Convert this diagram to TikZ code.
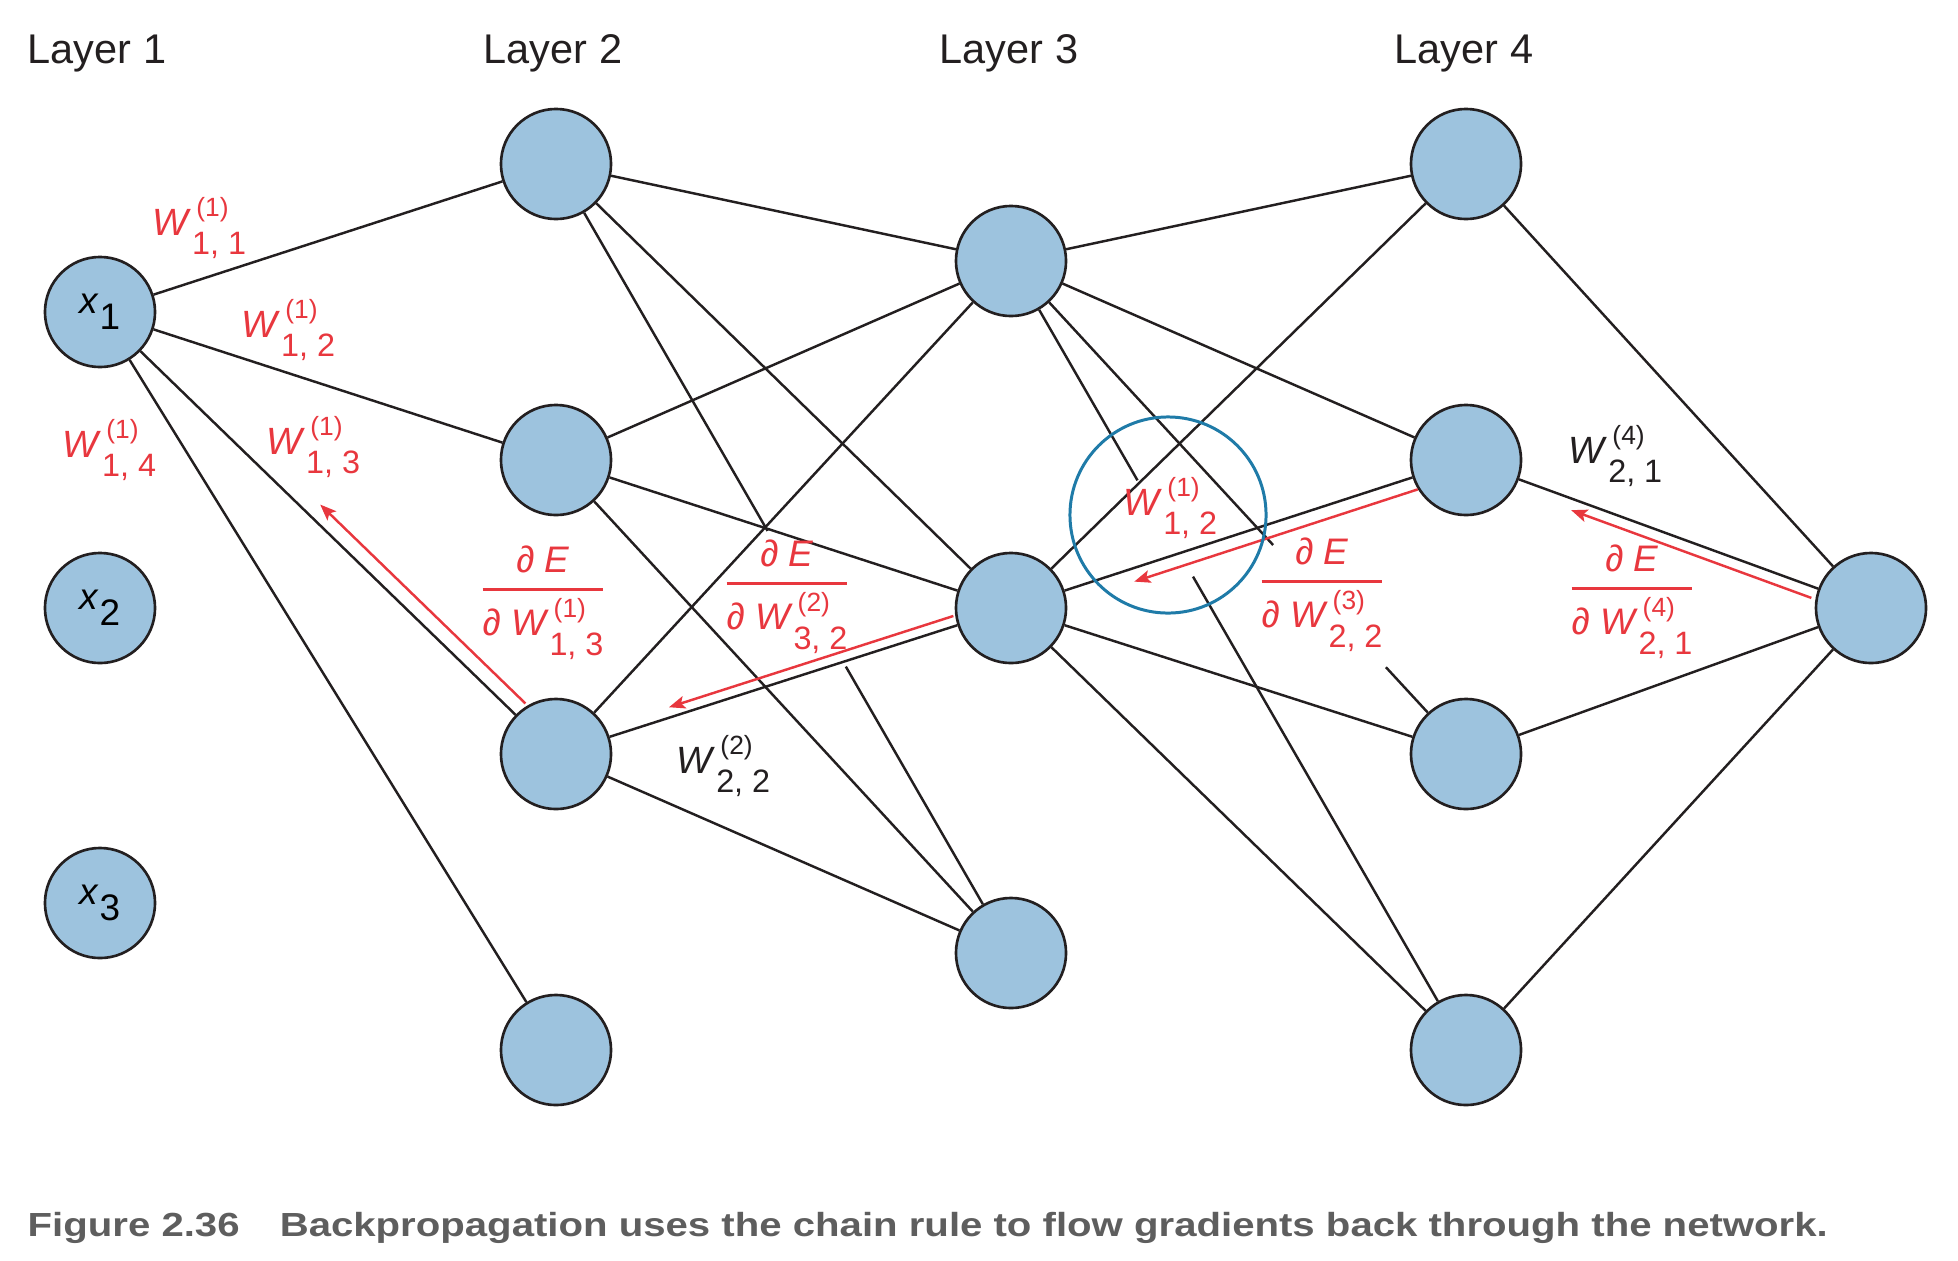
\documentclass[tikz,border=0pt]{standalone}
\usepackage{fontspec}
\setmainfont{Liberation Sans}
\usepackage{graphicx}
\usetikzlibrary{calc,arrows.meta}

\definecolor{nodeblue}{HTML}{9DC3DE}
\definecolor{gradred}{HTML}{E8373E}
\definecolor{ringblue}{HTML}{1F7BA8}
\definecolor{capgrey}{HTML}{5E5E5E}
\definecolor{inkblack}{HTML}{231F20}

% weight label: W with superscript (layer) and subscript (i, j)
\newcommand\wsub[3]{\textit{W}\kern0.2pt\rlap{\kern1.2pt\raisebox{5.2pt}{\fontsize{7.5}{9}\selectfont(#1)}}\raisebox{-5.6pt}{\fontsize{9.2}{11}\selectfont#2, #3}}
\newcommand\nx[1]{\textit{x}\raisebox{-4.5pt}{#1}}
\newcommand\dEdW[3]{$\displaystyle{\hbox{\fontsize{10.5}{12}\selectfont ∂ \textit{E}}\above0.7pt\hbox{\fontsize{10.5}{12}\selectfont ∂ \wsub{#1}{#2}{#3}}}$}

\begin{document}
\begin{tikzpicture}[x=0.01cm,y=-0.01cm,
		neuron/.style={circle,draw=inkblack,line width=0.75pt,fill=nodeblue,minimum size=1.1cm,inner sep=0pt,font=\fontsize{10.5}{12}\selectfont},
		edge/.style={draw=inkblack,line width=0.7pt},
		grad/.style={draw=gradred,line width=0.7pt,-{Stealth[length=4.6pt,width=3.6pt,inset=1pt]}},
		wred/.style={text=gradred,anchor=base west,inner sep=0pt,font=\fontsize{10.8}{12}\selectfont},
		wblack/.style={text=inkblack,anchor=base west,inner sep=0pt,font=\fontsize{10.8}{12}\selectfont},
		gradlabel/.style={text=gradred,anchor=base,inner sep=0pt,font=\fontsize{10.5}{12}\selectfont},
		layer/.style={anchor=base,inner sep=0pt,text=inkblack,font=\fontsize{11.8}{14}\selectfont}]
	\useasboundingbox (0,0) rectangle (1958,1260);

	% layer titles
	\node[layer] (title1) at (97,63) {Layer 1};
	\node[layer] (title2) at (553,63) {Layer 2};
	\node[layer] (title3) at (1009,63) {Layer 3};
	\node[layer] (title4) at (1464,63) {Layer 4};

	% neurons
	\node[neuron] (x1) at (100,312) {\nx{1}};
	\node[neuron] (x2) at (100,608) {\nx{2}};
	\node[neuron] (x3) at (100,903) {\nx{3}};
	\foreach \y/\n in {164/1,460/2,754/3,1050/4}
		\node[neuron] (h2\n) at (556,\y) {};
	\foreach \y/\n in {261/1,608/2,953/3}
		\node[neuron] (l3\n) at (1011,\y) {};
	\foreach \y/\n in {164/1,460/2,754/3,1050/4}
		\node[neuron] (l4\n) at (1466,\y) {};
	\node[neuron] (out) at (1871,608) {};

	% connections
	\foreach \t in {h21,h22,h23,h24}
		\draw[edge] (x1) -- (\t);
	\foreach \s in {h21,h22,h23}
		\foreach \t in {l31,l32}
			\draw[edge] (\s) -- (\t);
	\draw[edge] (h22) -- (l33);
	\draw[edge] (h23) -- (l33);
	\draw[edge] (h21) -- ($(h21)!.465!(l33)$);
	\draw[edge] ($(h21)!.637!(l33)$) -- (l33);
	\draw[edge] (l31) -- (l41);
	\draw[edge] (l31) -- (l42);
	\draw[edge] (l31) -- ($(l31)!.576!(l43)$);
	\draw[edge] ($(l31)!.824!(l43)$) -- (l43);
	\draw[edge] (l31) -- ($(l31)!.278!(l44)$);
	\draw[edge] ($(l31)!.40!(l44)$) -- (l44);
	\foreach \t in {l41,l42,l43,l44}
		\draw[edge] (l32) -- (\t);
	\foreach \s in {l41,l42,l43,l44}
		\draw[edge] (\s) -- (out);

	% gradients flowing back
	\draw[grad] ($(h23)!.09!(x1)!0.15cm!-90:(x1)$) -- ($(h23)!.54!(x1)!0.15cm!-90:(x1)$);
	\draw[grad] ($(l32)!.12!(h23)!0.1cm!-90:(h23)$) -- ($(l32)!.745!(h23)!0.1cm!-90:(h23)$);
	\draw[grad] ($(l42)!.115!(l32)!0.13cm!90:(l32)$) -- ($(l42)!.738!(l32)!0.13cm!90:(l32)$);
	\draw[grad] ($(out)!.138!(l42)!0.11cm!90:(l42)$) -- ($(out)!.731!(l42)!0.11cm!90:(l42)$);

	% weights
	\node[wred] (w11) at (152,235) {\wsub{1}{1}{1}};
	\node[wred] (w12) at (241,337) {\wsub{1}{1}{2}};
	\node[wred] (w14) at (62,457) {\wsub{1}{1}{4}};
	\node[wred] (w13) at (266,454) {\wsub{1}{1}{3}};
	\node[wblack] (w22) at (676,773) {\wsub{2}{2}{2}};
	\node[wred] (w12b) at (1123,515) {\wsub{1}{1}{2}};
	\node[wblack] (w41) at (1568,463) {\wsub{4}{2}{1}};

	% partial derivatives
	\node[gradlabel] (d1) at (543,599) {\dEdW{1}{1}{3}};
	\node[gradlabel] (d2) at (787,593) {\dEdW{2}{3}{2}};
	\node[gradlabel] (d3) at (1322,591) {\dEdW{3}{2}{2}};
	\node[gradlabel] (d4) at (1632,598) {\dEdW{4}{2}{1}};

	% highlighted weight
	\node[circle,draw=ringblue,line width=0.85pt,minimum size=1.96cm,inner sep=0pt] (focus) at (1168,515) {};

	\node[anchor=base west,inner sep=0pt,text=capgrey] (caption) at (27,1236)
		{\resizebox{17.99cm}{\height}{\fontsize{9.5}{11}\selectfont\bfseries Figure 2.36\quad Backpropagation uses the chain rule to flow gradients back through the network.}};
\end{tikzpicture}
\end{document}
